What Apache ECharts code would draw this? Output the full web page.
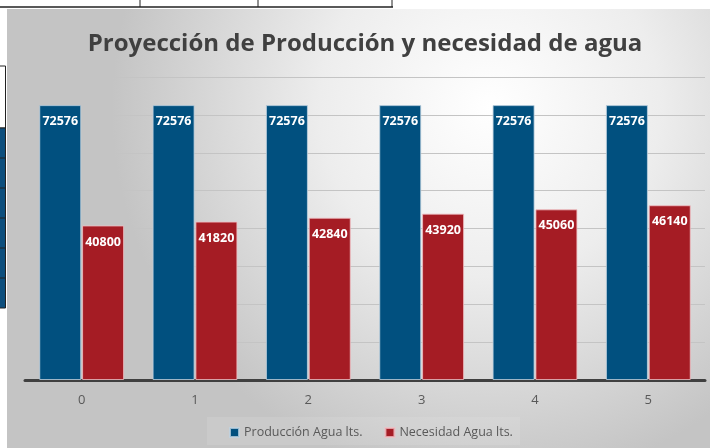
<!DOCTYPE html>
<html>
<head>
<meta charset="utf-8">
<script src="https://cdn.jsdelivr.net/npm/echarts@6/dist/echarts.min.js"></script>
<style>html,body{margin:0;padding:0;background:#fff;}#main{width:710px;height:448px;}</style>
</head>
<body>
<div id="main"></div>
<script>
const categories = ['0', '1', '2', '3', '4', '5'];
const produccion = [72576, 72576, 72576, 72576, 72576, 72576];
const necesidad = [40800, 41820, 42840, 43920, 45060, 46140];
const seriesNames = ['Producción Agua lts.', 'Necesidad Agua lts.'];
const titleText = 'Proyección de Producción y necesidad de agua';

const chart = echarts.init(document.getElementById('main'), null, {renderer: 'canvas'});

const cellLines = [];
// spreadsheet artifacts
[158, 188, 218, 248, 278].forEach(y => cellLines.push({type:'line', shape:{x1:0,y1:y,x2:6,y2:y}, style:{stroke:'#222', lineWidth:1}, z:-5}));

chart.setOption({
  backgroundColor: '#ffffff',
  animation: false,
  graphic: [
    {type:'rect', shape:{x:7, y:9, width:710, height:445},
     style:{fill:{type:'radial', x:0.68, y:0.22, r:0.85,
       colorStops:[{offset:0,color:'#ffffff'},{offset:0.45,color:'#ededed'},{offset:1,color:'#c4c4c4'}]}}, z:-10},
    {type:'rect', shape:{x:207, y:417, width:313, height:28}, style:{fill:'rgba(255,255,255,0.1)'}, z:-8},
    {type:'line', shape:{x1:0,y1:7,x2:393,y2:7}, style:{stroke:'#222', lineWidth:1.5}, z:-5},
    {type:'line', shape:{x1:140,y1:0,x2:140,y2:7}, style:{stroke:'#222', lineWidth:1}, z:-5},
    {type:'line', shape:{x1:258,y1:0,x2:258,y2:7}, style:{stroke:'#222', lineWidth:1}, z:-5},
    {type:'line', shape:{x1:392,y1:0,x2:392,y2:7}, style:{stroke:'#222', lineWidth:1}, z:-5},
    {type:'rect', shape:{x:-1, y:66, width:6.5, height:62}, style:{fill:'#fff', stroke:'#222', lineWidth:1}, z:-5},
    {type:'rect', shape:{x:-1, y:128, width:6.5, height:180}, style:{fill:'#0e4f7d', stroke:'#222', lineWidth:1}, z:-5}
  ].concat(cellLines),
  title: {
    text: titleText,
    left: 360, top: 27, textAlign: 'center',
    textStyle: {fontFamily: 'Open Sans', fontWeight: 'bold', fontSize: 24, color: '#404040'}
  },
  legend: {
    data: seriesNames,
    bottom: 4, left: 224,
    itemWidth: 9, itemHeight: 9, itemGap: 22, padding: 5,
    icon: 'rect',
    textStyle: {fontFamily: 'Open Sans', fontSize: 12.5, color: '#595959'}
  },
  grid: {left: 25, right: 5, top: 77, bottom: 68, containLabel: false},
  xAxis: {
    type: 'category', data: categories,
    axisLine: {lineStyle: {color: '#404040', width: 3}},
    axisTick: {show: false},
    axisLabel: {fontFamily: 'Open Sans', fontSize: 13, color: '#595959', margin: 14}
  },
  yAxis: {
    type: 'value', min: 0, max: 80000, interval: 10000,
    axisLabel: {show: false}, axisLine: {show: false}, axisTick: {show: false},
    splitLine: {lineStyle: {color: '#c4c4c4', width: 1}}
  },
  series: [
    {name: seriesNames[0], type: 'bar', data: produccion, barWidth: 42, barGap: '2%',
     itemStyle: {color: '#01507f', borderColor: 'rgba(190,210,225,0.8)', borderWidth: 1},
     label: {show: true, position: 'insideTop', distance: 10, color: '#fff', fontFamily: 'Open Sans', fontWeight: 'bold', fontSize: 12.5}},
    {name: seriesNames[1], type: 'bar', data: necesidad, barWidth: 42,
     itemStyle: {color: '#a51c24', borderColor: 'rgba(240,190,195,0.8)', borderWidth: 1},
     label: {show: true, position: 'insideTop', distance: 10, color: '#fff', fontFamily: 'Open Sans', fontWeight: 'bold', fontSize: 12.5}}
  ]
});
</script>
</body>
</html>
